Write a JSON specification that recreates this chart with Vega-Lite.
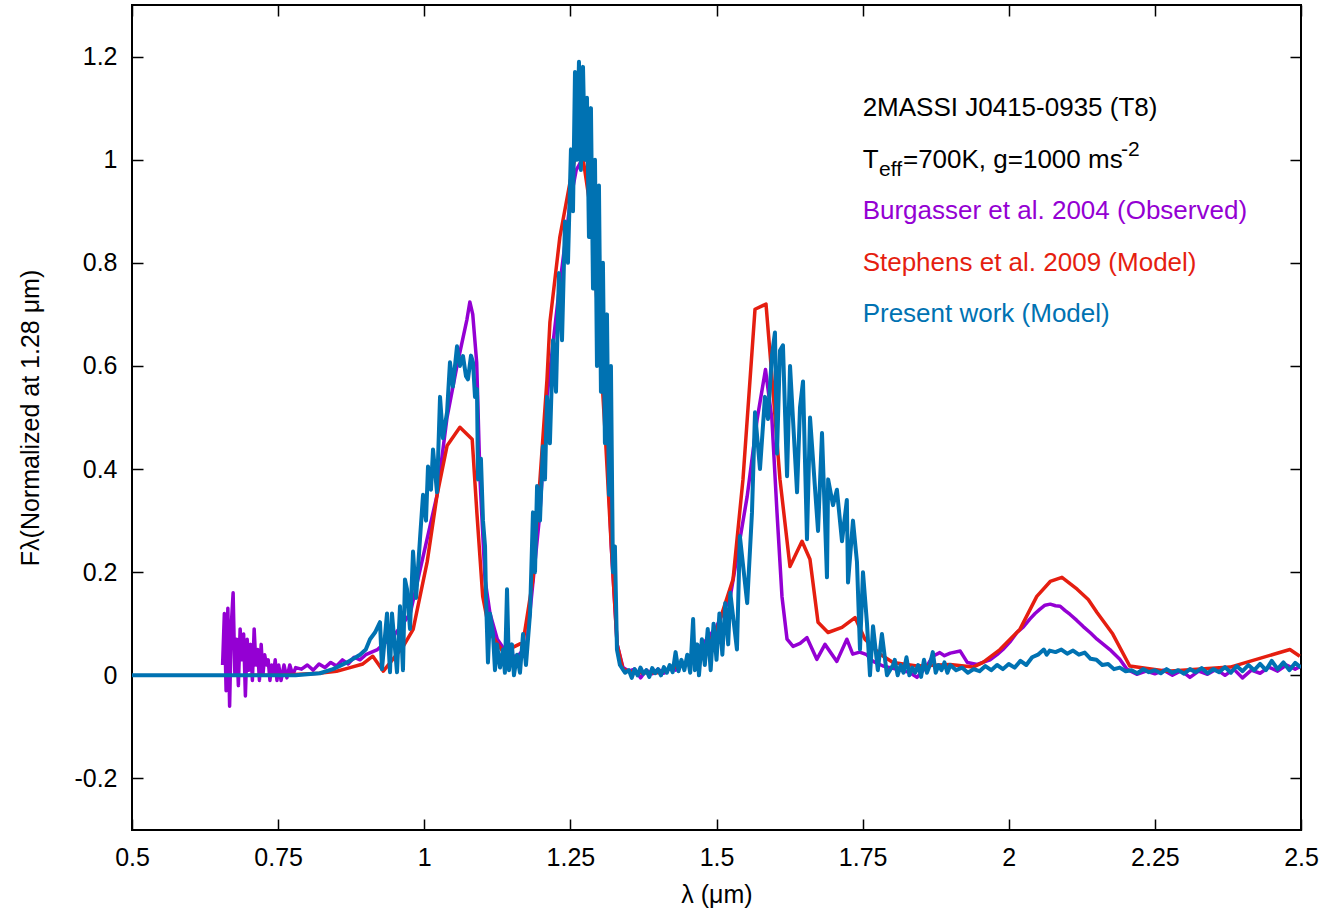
{
  "$schema": "https://vega.github.io/schema/vega-lite/v6.json",
  "width": 1169,
  "height": 825,
  "autosize": {"type": "none"},
  "padding": {"left": 132, "top": 5, "right": 31, "bottom": 81},
  "background": "white",
  "config": {
    "view": {"stroke": "black", "strokeWidth": 2},
    "font": "Liberation Sans",
    "axis": {
      "domain": false,
      "grid": false,
      "tickColor": "black",
      "tickWidth": 1.5,
      "tickSize": -11,
      "labelFont": "Liberation Sans",
      "labelFontSize": 25,
      "labelColor": "black",
      "titleFont": "Liberation Sans",
      "titleFontSize": 25,
      "titleFontWeight": "normal",
      "titleColor": "black"
    }
  },
  "datasets": {
    "obs": [
      {"x":0.655,"y":0.02},{"x":0.658,"y":0.12},{"x":0.661,"y":-0.03},{"x":0.664,"y":0.13},{"x":0.667,"y":-0.06},{"x":0.67,"y":0.1},{"x":0.673,"y":0.16},{"x":0.676,"y":0.0},{"x":0.679,"y":0.07},{"x":0.682,"y":-0.02},{"x":0.685,"y":0.09},{"x":0.688,"y":0.03},{"x":0.691,"y":0.08},{"x":0.694,"y":-0.04},{"x":0.697,"y":0.07},{"x":0.7,"y":0.01},{"x":0.703,"y":0.06},{"x":0.706,"y":-0.01},{"x":0.709,"y":0.09},{"x":0.712,"y":0.02},{"x":0.715,"y":0.05},{"x":0.718,"y":-0.01},{"x":0.721,"y":0.06},{"x":0.724,"y":0.0},{"x":0.727,"y":0.04},{"x":0.73,"y":0.02},{"x":0.733,"y":0.03},{"x":0.736,"y":-0.01},{"x":0.739,"y":0.02},{"x":0.742,"y":0.0},{"x":0.745,"y":0.03},{"x":0.748,"y":-0.01},{"x":0.751,"y":0.02},{"x":0.755,"y":-0.01},{"x":0.76,"y":0.02},{"x":0.765,"y":-0.005},{"x":0.77,"y":0.02},{"x":0.775,"y":0.0},{"x":0.78,"y":0.015},
      {"x":0.79,"y":0.012},{"x":0.8,"y":0.02},{"x":0.81,"y":0.01},{"x":0.82,"y":0.022},{"x":0.83,"y":0.015},{"x":0.84,"y":0.025},{"x":0.85,"y":0.018},{"x":0.86,"y":0.03},{"x":0.87,"y":0.022},{"x":0.88,"y":0.035},{"x":0.89,"y":0.03},{"x":0.9,"y":0.04},{"x":0.91,"y":0.045},{"x":0.92,"y":0.05},{"x":0.93,"y":0.06},{"x":0.94,"y":0.07},{"x":0.95,"y":0.08},{"x":0.96,"y":0.095},{"x":0.976,"y":0.12},{"x":0.998,"y":0.23},{"x":1.022,"y":0.35},{"x":1.039,"y":0.5},{"x":1.056,"y":0.6},{"x":1.073,"y":0.69},{"x":1.078,"y":0.724},{"x":1.083,"y":0.7},{"x":1.0897,"y":0.607},{"x":1.0954,"y":0.38},{"x":1.104,"y":0.186},{"x":1.1125,"y":0.12},{"x":1.125,"y":0.07},{"x":1.14,"y":0.045},{"x":1.158,"y":0.035},{"x":1.175,"y":0.056},{"x":1.198,"y":0.316},{"x":1.21,"y":0.54},{"x":1.22,"y":0.64},{"x":1.23,"y":0.74},{"x":1.24,"y":0.83},{"x":1.25,"y":0.92},{"x":1.26,"y":0.98},{"x":1.27,"y":1.0},{"x":1.28,"y":1.0},{"x":1.29,"y":0.95},{"x":1.3,"y":0.78},{"x":1.31,"y":0.52},{"x":1.32,"y":0.25},{"x":1.33,"y":0.06},{"x":1.34,"y":0.015},{"x":1.35,"y":0.008},{"x":1.36,"y":0.012},{"x":1.37,"y":-0.005},{"x":1.38,"y":0.01},{"x":1.39,"y":0.003},{"x":1.4,"y":0.012},{"x":1.41,"y":0.004},{"x":1.42,"y":0.014},{"x":1.43,"y":0.01},{"x":1.44,"y":0.02},{"x":1.45,"y":0.025},{"x":1.4666,"y":0.05},{"x":1.4836,"y":0.07},{"x":1.5004,"y":0.095},{"x":1.5236,"y":0.153},{"x":1.5525,"y":0.347},{"x":1.5696,"y":0.497},{"x":1.5838,"y":0.593},{"x":1.5948,"y":0.497},{"x":1.6035,"y":0.316},{"x":1.612,"y":0.153},{"x":1.6207,"y":0.07},{"x":1.631,"y":0.056},{"x":1.643,"y":0.062},{"x":1.6548,"y":0.073},{"x":1.6716,"y":0.031},{"x":1.6856,"y":0.06},{"x":1.7059,"y":0.027},{"x":1.723,"y":0.07},{"x":1.7331,"y":0.041},{"x":1.745,"y":0.045},{"x":1.757,"y":0.04},{"x":1.768,"y":0.027},{"x":1.785,"y":0.018},{"x":1.8,"y":0.014},{"x":1.814,"y":0.01},{"x":1.83,"y":0.006},{"x":1.843,"y":-0.004},{"x":1.86,"y":0.018},{"x":1.87,"y":0.037},{"x":1.882,"y":0.044},{"x":1.89,"y":0.038},{"x":1.9,"y":0.043},{"x":1.917,"y":0.047},{"x":1.929,"y":0.025},{"x":1.946,"y":0.021},{"x":1.958,"y":0.026},{"x":1.968,"y":0.03},{"x":1.98,"y":0.04},{"x":1.99,"y":0.05},{"x":2.003,"y":0.066},{"x":2.014,"y":0.083},{"x":2.025,"y":0.094},{"x":2.036,"y":0.109},{"x":2.045,"y":0.12},{"x":2.053,"y":0.128},{"x":2.062,"y":0.136},{"x":2.071,"y":0.138},{"x":2.08,"y":0.135},{"x":2.088,"y":0.134},{"x":2.096,"y":0.126},{"x":2.105,"y":0.118},{"x":2.116,"y":0.107},{"x":2.127,"y":0.095},{"x":2.14,"y":0.082},{"x":2.151,"y":0.07},{"x":2.162,"y":0.06},{"x":2.173,"y":0.05},{"x":2.19,"y":0.031},{"x":2.202,"y":0.012},{"x":2.219,"y":0.002},{"x":2.235,"y":0.008},{"x":2.25,"y":0.003},{"x":2.265,"y":0.01},{"x":2.28,"y":0.0},{"x":2.295,"y":0.009},{"x":2.31,"y":-0.004},{"x":2.325,"y":0.008},{"x":2.34,"y":0.002},{"x":2.355,"y":0.012},{"x":2.37,"y":0.0},{"x":2.385,"y":0.012},{"x":2.4,"y":-0.005},{"x":2.415,"y":0.01},{"x":2.43,"y":0.004},{"x":2.445,"y":0.016},{"x":2.46,"y":0.008},{"x":2.475,"y":0.02},{"x":2.49,"y":0.012},{"x":2.5,"y":0.018}
    ],
    "stephens": [
      {"x":0.7,"y":0.0},{"x":0.75,"y":0.0},{"x":0.787,"y":0.002},{"x":0.82,"y":0.004},{"x":0.85,"y":0.008},{"x":0.87,"y":0.014},{"x":0.895,"y":0.022},{"x":0.912,"y":0.037},{"x":0.93,"y":0.008},{"x":0.964,"y":0.056},{"x":0.981,"y":0.089},{"x":1.005,"y":0.22},{"x":1.022,"y":0.35},{"x":1.039,"y":0.445},{"x":1.061,"y":0.481},{"x":1.082,"y":0.458},{"x":1.09,"y":0.316},{"x":1.1,"y":0.153},{"x":1.112,"y":0.083},{"x":1.135,"y":0.045},{"x":1.169,"y":0.064},{"x":1.186,"y":0.186},{"x":1.21,"y":0.574},{"x":1.215,"y":0.685},{"x":1.232,"y":0.85},{"x":1.25,"y":0.96},{"x":1.258,"y":1.005},{"x":1.272,"y":1.0},{"x":1.285,"y":0.9},{"x":1.3,"y":0.65},{"x":1.31,"y":0.46},{"x":1.32,"y":0.25},{"x":1.33,"y":0.06},{"x":1.34,"y":0.012},{"x":1.36,"y":0.005},{"x":1.4,"y":0.005},{"x":1.44,"y":0.02},{"x":1.4718,"y":0.037},{"x":1.5004,"y":0.089},{"x":1.5283,"y":0.186},{"x":1.5453,"y":0.38},{"x":1.5659,"y":0.71},{"x":1.5847,"y":0.72},{"x":1.5915,"y":0.626},{"x":1.6086,"y":0.38},{"x":1.6257,"y":0.211},{"x":1.6463,"y":0.26},{"x":1.6599,"y":0.225},{"x":1.6737,"y":0.103},{"x":1.6908,"y":0.083},{"x":1.7147,"y":0.093},{"x":1.737,"y":0.112},{"x":1.754,"y":0.07},{"x":1.78,"y":0.041},{"x":1.802,"y":0.025},{"x":1.843,"y":0.018},{"x":1.8995,"y":0.021},{"x":1.939,"y":0.016},{"x":1.956,"y":0.025},{"x":1.985,"y":0.05},{"x":2.019,"y":0.089},{"x":2.048,"y":0.153},{"x":2.071,"y":0.182},{"x":2.091,"y":0.19},{"x":2.117,"y":0.167},{"x":2.136,"y":0.147},{"x":2.151,"y":0.122},{"x":2.178,"y":0.08},{"x":2.207,"y":0.018},{"x":2.271,"y":0.008},{"x":2.379,"y":0.016},{"x":2.481,"y":0.05},{"x":2.498,"y":0.037}
    ],
    "present": [
      {"x":0.5,"y":0},{"x":0.78,"y":0},{"x":0.8,"y":0.002},{"x":0.8216,"y":0.004},{"x":0.8439,"y":0.012},{"x":0.8678,"y":0.025},{"x":0.8901,"y":0.04},{"x":0.9,"y":0.05},{"x":0.9072,"y":0.07},{"x":0.9157,"y":0.083},{"x":0.9243,"y":0.103},{"x":0.9277,"y":0.012},{"x":0.9363,"y":0.12},{"x":0.9414,"y":0.006},{"x":0.9448,"y":0.12},{"x":0.9534,"y":0.006},{"x":0.9585,"y":0.134},{"x":0.9636,"y":0.01},{"x":0.967,"y":0.186},{"x":0.9705,"y":0.167},{"x":0.9756,"y":0.09},{"x":0.9808,"y":0.24},{"x":0.986,"y":0.15},{"x":0.9927,"y":0.264},{"x":0.9979,"y":0.35},{"x":1.003,"y":0.3},{"x":1.0064,"y":0.405},{"x":1.0115,"y":0.36},{"x":1.015,"y":0.438},{"x":1.0218,"y":0.355},{"x":1.027,"y":0.54},{"x":1.032,"y":0.46},{"x":1.039,"y":0.51},{"x":1.044,"y":0.607},{"x":1.049,"y":0.56},{"x":1.056,"y":0.638},{"x":1.061,"y":0.6},{"x":1.0663,"y":0.619},{"x":1.0714,"y":0.58},{"x":1.0748,"y":0.574},{"x":1.08,"y":0.62},{"x":1.0834,"y":0.607},{"x":1.0868,"y":0.54},{"x":1.0902,"y":0.555},{"x":1.092,"y":0.38},{"x":1.097,"y":0.42},{"x":1.1005,"y":0.3},{"x":1.104,"y":0.25},{"x":1.1056,"y":0.153},{"x":1.109,"y":0.025},{"x":1.1125,"y":0.12},{"x":1.1176,"y":0.08},{"x":1.121,"y":0.01},{"x":1.1245,"y":0.06},{"x":1.1296,"y":0.015},{"x":1.1347,"y":0.05},{"x":1.138,"y":0.005},{"x":1.1416,"y":0.167},{"x":1.145,"y":0.01},{"x":1.15,"y":0.06},{"x":1.1535,"y":0.0},{"x":1.1587,"y":0.04},{"x":1.1638,"y":0.005},{"x":1.169,"y":0.08},{"x":1.174,"y":0.02},{"x":1.181,"y":0.12},{"x":1.186,"y":0.316},{"x":1.1895,"y":0.2},{"x":1.193,"y":0.367},{"x":1.198,"y":0.3},{"x":1.203,"y":0.444},{"x":1.2066,"y":0.38},{"x":1.21,"y":0.54},{"x":1.215,"y":0.45},{"x":1.2203,"y":0.65},{"x":1.2254,"y":0.55},{"x":1.2305,"y":0.78},{"x":1.2357,"y":0.65},{"x":1.2408,"y":0.88},{"x":1.2459,"y":0.8},{"x":1.251,"y":1.02},{"x":1.2545,"y":0.9},{"x":1.2579,"y":1.17},{"x":1.2613,"y":1.0},{"x":1.2647,"y":1.19},{"x":1.268,"y":0.98},{"x":1.2716,"y":1.18},{"x":1.275,"y":1.0},{"x":1.2784,"y":1.12},{"x":1.2818,"y":0.85},{"x":1.2852,"y":1.1},{"x":1.2887,"y":0.75},{"x":1.2921,"y":1.0},{"x":1.2955,"y":0.6},{"x":1.2989,"y":0.95},{"x":1.3023,"y":0.55},{"x":1.3057,"y":0.8},{"x":1.3091,"y":0.45},{"x":1.3126,"y":0.7},{"x":1.316,"y":0.35},{"x":1.3194,"y":0.6},{"x":1.3228,"y":0.2},{"x":1.3262,"y":0.25},{"x":1.3297,"y":0.05},{"x":1.3348,"y":0.02},{"x":1.3435,"y":0.005},
      {"x":1.35,"y":0.01},{"x":1.355,"y":-0.005},{"x":1.36,"y":0.012},{"x":1.365,"y":0.0},{"x":1.37,"y":0.015},{"x":1.375,"y":0.003},{"x":1.38,"y":0.01},{"x":1.385,"y":-0.003},{"x":1.39,"y":0.014},{"x":1.395,"y":0.004},{"x":1.4,"y":0.012},{"x":1.405,"y":0.0},{"x":1.41,"y":0.016},{"x":1.415,"y":0.005},{"x":1.42,"y":0.02},{"x":1.425,"y":0.006},{"x":1.43,"y":0.045},{"x":1.435,"y":0.008},{"x":1.44,"y":0.03},{"x":1.445,"y":0.01},{"x":1.45,"y":0.04},{"x":1.455,"y":0.005},{"x":1.46,"y":0.109},{"x":1.463,"y":0.01},{"x":1.467,"y":0.06},{"x":1.47,"y":0.0},{"x":1.475,"y":0.07},{"x":1.48,"y":0.02},{"x":1.485,"y":0.09},{"x":1.49,"y":0.01},{"x":1.495,"y":0.1},{"x":1.5,"y":0.03},{"x":1.505,"y":0.12},{"x":1.51,"y":0.04},{"x":1.515,"y":0.14},{"x":1.52,"y":0.06},{"x":1.5236,"y":0.16},{"x":1.535,"y":0.05},{"x":1.54,"y":0.27},{"x":1.5525,"y":0.14},{"x":1.5607,"y":0.316},{"x":1.5659,"y":0.51},{"x":1.5744,"y":0.4},{"x":1.5829,"y":0.54},{"x":1.588,"y":0.497},{"x":1.5948,"y":0.62},{"x":1.6,"y":0.665},{"x":1.6035,"y":0.43},{"x":1.6086,"y":0.63},{"x":1.6137,"y":0.64},{"x":1.6207,"y":0.386},{"x":1.6258,"y":0.6},{"x":1.6378,"y":0.355},{"x":1.6429,"y":0.52},{"x":1.648,"y":0.57},{"x":1.6548,"y":0.264},{"x":1.66,"y":0.5},{"x":1.665,"y":0.42},{"x":1.6737,"y":0.28},{"x":1.6805,"y":0.47},{"x":1.689,"y":0.19},{"x":1.691,"y":0.38},{"x":1.6993,"y":0.33},{"x":1.706,"y":0.36},{"x":1.7147,"y":0.26},{"x":1.723,"y":0.34},{"x":1.725,"y":0.18},{"x":1.7335,"y":0.3},{"x":1.7403,"y":0.22},{"x":1.7455,"y":0.05},{"x":1.7506,"y":0.2},{"x":1.7575,"y":0.1},{"x":1.7626,"y":0.0},{"x":1.7678,"y":0.095},{"x":1.776,"y":0.01},{"x":1.783,"y":0.08},{"x":1.7917,"y":0.0},{"x":1.802,"y":0.02},
      {"x":1.805,"y":0.03},{"x":1.81,"y":0.0},{"x":1.815,"y":0.02},{"x":1.82,"y":0.005},{"x":1.825,"y":0.035},{"x":1.83,"y":0.0},{"x":1.835,"y":0.015},{"x":1.84,"y":0.005},{"x":1.845,"y":0.02},{"x":1.85,"y":-0.003},{"x":1.855,"y":0.03},{"x":1.86,"y":0.005},{"x":1.865,"y":0.02},{"x":1.87,"y":0.045},{"x":1.875,"y":0.005},{"x":1.88,"y":0.02},{"x":1.885,"y":0.01},{"x":1.89,"y":0.025},{"x":1.895,"y":0.005},{"x":1.9,"y":0.02},{"x":1.91,"y":0.01},{"x":1.92,"y":0.015},{"x":1.93,"y":0.005},{"x":1.94,"y":0.012},{"x":1.95,"y":0.008},{"x":1.96,"y":0.018},{"x":1.97,"y":0.01},{"x":1.98,"y":0.02},{"x":1.99,"y":0.012},{"x":2.0,"y":0.022},{"x":2.01,"y":0.015},{"x":2.02,"y":0.028},{"x":2.03,"y":0.02},{"x":2.04,"y":0.035},{"x":2.05,"y":0.04},{"x":2.06,"y":0.05},{"x":2.065,"y":0.04},{"x":2.07,"y":0.048},{"x":2.08,"y":0.045},{"x":2.09,"y":0.05},{"x":2.1,"y":0.042},{"x":2.11,"y":0.048},{"x":2.12,"y":0.04},{"x":2.13,"y":0.044},{"x":2.14,"y":0.032},{"x":2.15,"y":0.03},{"x":2.16,"y":0.02},{"x":2.17,"y":0.022},{"x":2.18,"y":0.012},{"x":2.19,"y":0.015},{"x":2.2,"y":0.008},{"x":2.21,"y":0.01},{"x":2.22,"y":0.004},{"x":2.23,"y":0.012},{"x":2.24,"y":0.006},{"x":2.25,"y":0.01},{"x":2.26,"y":0.004},{"x":2.27,"y":0.012},{"x":2.28,"y":0.005},{"x":2.29,"y":0.01},{"x":2.3,"y":0.003},{"x":2.31,"y":0.012},{"x":2.32,"y":0.006},{"x":2.33,"y":0.014},{"x":2.34,"y":0.004},{"x":2.35,"y":0.012},{"x":2.36,"y":0.006},{"x":2.37,"y":0.016},{"x":2.38,"y":0.005},{"x":2.39,"y":0.018},{"x":2.4,"y":0.008},{"x":2.41,"y":0.02},{"x":2.42,"y":0.01},{"x":2.43,"y":0.022},{"x":2.44,"y":0.01},{"x":2.45,"y":0.028},{"x":2.46,"y":0.012},{"x":2.47,"y":0.025},{"x":2.48,"y":0.01},{"x":2.49,"y":0.024},{"x":2.5,"y":0.015}
    ],
    "notes": [
      {"x":1.75,"y":1.1,"t":"2MASSI J0415-0935 (T8)","k":"plain"},
      {"x":1.75,"y":1.0,"t":"T","k":"plain"},
      {"x":1.819,"y":1.0,"t":"=700K, g=1000 ms","k":"plain"},
      {"x":1.75,"y":0.9,"t":"Burgasser et al. 2004 (Observed)","k":"obs"},
      {"x":1.75,"y":0.8,"t":"Stephens et al. 2009 (Model)","k":"st"},
      {"x":1.75,"y":0.7,"t":"Present work (Model)","k":"pw"}
    ],
    "sub": [{"x":1.778,"y":1.0,"t":"eff"}],
    "sup": [{"x":2.192,"y":1.0,"t":"-2"}]
  },
  "layer": [
    {
      "data": {"name": "obs"},
      "mark": {"type": "line", "color": "#9400d3", "strokeWidth": 3.5, "clip": true, "strokeJoin": "round"},
      "encoding": {
        "x": {"field": "x", "type": "quantitative", "sort": null,
          "scale": {"domain": [0.5, 2.5], "nice": false, "zero": false},
          "axis": {"orient": "bottom", "values": [0.5,0.75,1,1.25,1.5,1.75,2,2.25,2.5], "labelExpr": "format(datum.value, '.2~f')", "labelPadding": 26, "title": "λ (μm)", "titlePadding": 12, "labelFlush": false}},
        "y": {"field": "y", "type": "quantitative",
          "scale": {"domain": [-0.3, 1.3], "nice": false, "zero": false},
          "axis": {"orient": "left", "values": [-0.2,0,0.2,0.4,0.6,0.8,1,1.2], "labelExpr": "datum.value < 0 ? '-' + format(-datum.value, '.1~f') : format(datum.value, '.1~f')", "labelPadding": 26, "title": "Fλ(Normalized at 1.28 μm)", "titlePadding": 30, "labelFlush": false}},
        "order": {"field": "x", "type": "quantitative"}
      }
    },
    {
      "data": {"name": "stephens"},
      "mark": {"type": "line", "color": "#e51e10", "strokeWidth": 3.5, "clip": true, "strokeJoin": "round"},
      "encoding": {
        "x": {"field": "x", "type": "quantitative", "axis": null},
        "y": {"field": "y", "type": "quantitative", "axis": null},
        "order": {"field": "x", "type": "quantitative"}
      }
    },
    {
      "data": {"name": "present"},
      "mark": {"type": "line", "color": "#0072b2", "strokeWidth": 4, "clip": true, "strokeJoin": "round"},
      "encoding": {
        "x": {"field": "x", "type": "quantitative", "axis": {"orient": "top", "values": [0.5,0.75,1,1.25,1.5,1.75,2,2.25,2.5], "labels": false, "title": null}},
        "y": {"field": "y", "type": "quantitative", "axis": {"orient": "right", "values": [-0.2,0,0.2,0.4,0.6,0.8,1,1.2], "labels": false, "title": null}},
        "order": {"field": "x", "type": "quantitative"}
      }
    },
    {
      "data": {"name": "notes"},
      "mark": {"type": "text", "align": "left", "baseline": "middle", "fontSize": 26, "font": "Liberation Sans"},
      "encoding": {
        "x": {"field": "x", "type": "quantitative", "axis": null},
        "y": {"field": "y", "type": "quantitative", "axis": null},
        "text": {"field": "t"},
        "color": {"field": "k", "type": "nominal", "legend": null,
          "scale": {"domain": ["plain", "obs", "st", "pw"], "range": ["#000000", "#9400d3", "#e51e10", "#0072b2"]}}
      }
    },
    {
      "data": {"name": "sub"},
      "mark": {"type": "text", "align": "left", "baseline": "middle", "fontSize": 21, "dy": 10, "color": "black", "font": "Liberation Sans"},
      "encoding": {
        "x": {"field": "x", "type": "quantitative", "axis": null},
        "y": {"field": "y", "type": "quantitative", "axis": null},
        "text": {"field": "t"}
      }
    },
    {
      "data": {"name": "sup"},
      "mark": {"type": "text", "align": "left", "baseline": "middle", "fontSize": 21, "dy": -10, "color": "black", "font": "Liberation Sans"},
      "encoding": {
        "x": {"field": "x", "type": "quantitative", "axis": null},
        "y": {"field": "y", "type": "quantitative", "axis": null},
        "text": {"field": "t"}
      }
    }
  ],
  "resolve": {"axis": {"x": "independent", "y": "independent"}}
}
